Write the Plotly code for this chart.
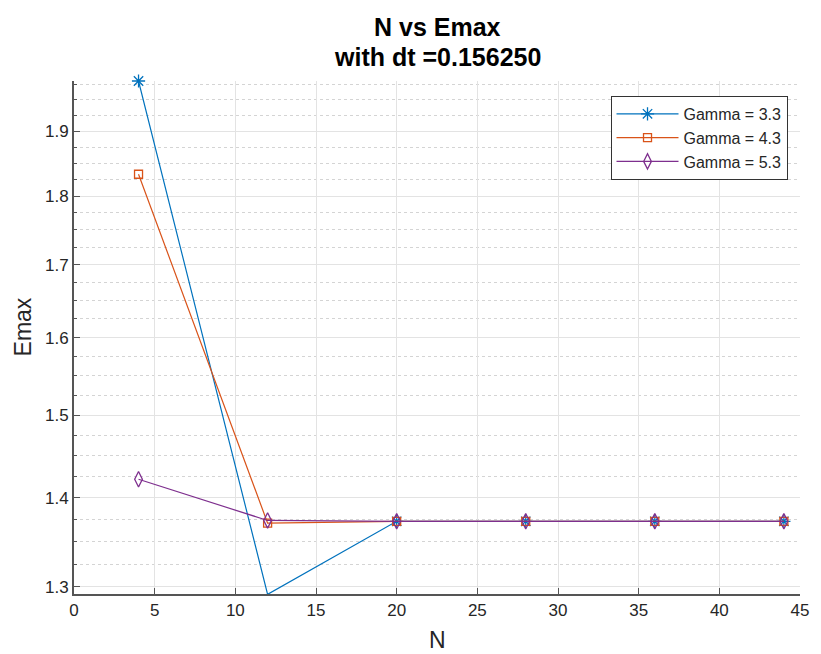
import math
import plotly.graph_objects as go

# ---- data ----
N = [4, 12, 20, 28, 36, 44]
emax_g33 = [1.981, 1.292, 1.373, 1.373, 1.373, 1.373]
emax_g43 = [1.833, 1.371, 1.373, 1.373, 1.373, 1.373]
emax_g53 = [1.422, 1.374, 1.373, 1.373, 1.373, 1.373]
series_names = ["Gamma = 3.3", "Gamma = 4.3", "Gamma = 5.3"]
series_colors = ["#0072BD", "#D95319", "#7E2F8E"]
series_symbols = ["asterisk-open", "square-open", "diamond-tall-open"]
series_sizes = [11, 8, 11]

x_ticks = [0, 5, 10, 15, 20, 25, 30, 35, 40, 45]
y_ticks = [1.3, 1.4, 1.5, 1.6, 1.7, 1.8, 1.9]
y_ticktext = ["1.3", "1.4", "1.5", "1.6", "1.7", "1.8", "1.9"]
y_minor = [round(1.3 + 0.025 * i, 3) for i in range(28) if i % 4 != 0]

y_lo, y_hi = 1.2924, 1.981

FONT = "Liberation Sans, Arial, Helvetica, sans-serif"
TXT = "#262626"

fig = go.Figure()
for ys, name, col, sym, sz in zip([emax_g33, emax_g43, emax_g53], series_names,
                                   series_colors, series_symbols, series_sizes):
    fig.add_trace(go.Scatter(
        x=N, y=ys, name=name, mode="lines+markers",
        line=dict(color=col, width=1.2),
        marker=dict(symbol=sym, size=sz, color=col, line=dict(color=col, width=1.3)),
        cliponaxis=False,
    ))

fig.update_layout(
    width=821, height=654,
    margin=dict(l=74, r=15, t=81, b=60),
    paper_bgcolor="white", plot_bgcolor="white",
    font=dict(family=FONT, color=TXT, size=16),
    showlegend=True,
    legend=dict(
        x=0.739, y=0.971, xanchor="left", yanchor="top",
        bgcolor="white", bordercolor="#333333", borderwidth=1,
        font=dict(family=FONT, size=16, color=TXT),
        itemwidth=62,
    ),
    xaxis=dict(
        range=[0, 45], tickvals=x_ticks, ticktext=[str(v) for v in x_ticks],
        showline=True, linecolor="#555555", linewidth=2, mirror=False,
        ticks="inside", ticklen=6, tickcolor="#555555", tickwidth=1,
        showgrid=True, gridcolor="#e3e3e3", gridwidth=1,
        zeroline=False,
        tickfont=dict(family=FONT, size=17, color=TXT),
    ),
    yaxis=dict(
        type="log",
        range=[math.log10(y_lo), math.log10(y_hi)],
        tickmode="array", tickvals=y_ticks, ticktext=y_ticktext,
        showline=True, linecolor="#555555", linewidth=2, mirror=False,
        ticks="inside", ticklen=6, tickcolor="#555555", tickwidth=1,
        showgrid=True, gridcolor="#e3e3e3", gridwidth=1,
        zeroline=False,
        tickfont=dict(family=FONT, size=17, color=TXT),
        minor=dict(
            tickmode="array", tickvals=y_minor,
            ticks="inside", ticklen=3, tickcolor="#555555",
            showgrid=True, gridcolor="#d4d4d4", griddash="dot", gridwidth=1,
        ),
    ),
    annotations=[
        dict(text="<b>N vs Emax</b>", x=0.5, y=1.105, xref="paper", yref="paper",
             xanchor="center", yanchor="middle", showarrow=False,
             font=dict(family=FONT, size=25, color="#000000")),
        dict(text="<b>with dt =0.156250</b>", x=0.5, y=1.047, xref="paper", yref="paper",
             xanchor="center", yanchor="middle", showarrow=False,
             font=dict(family=FONT, size=25, color="#000000")),
        dict(text="N", x=0.5, y=-0.09, xref="paper", yref="paper",
             xanchor="center", yanchor="middle", showarrow=False,
             font=dict(family=FONT, size=23, color=TXT)),
        dict(text="Emax", x=-0.07, y=0.52, xref="paper", yref="paper",
             xanchor="center", yanchor="middle", showarrow=False, textangle=-90,
             font=dict(family=FONT, size=23, color=TXT)),
    ],
)

fig.write_html("out.html")
